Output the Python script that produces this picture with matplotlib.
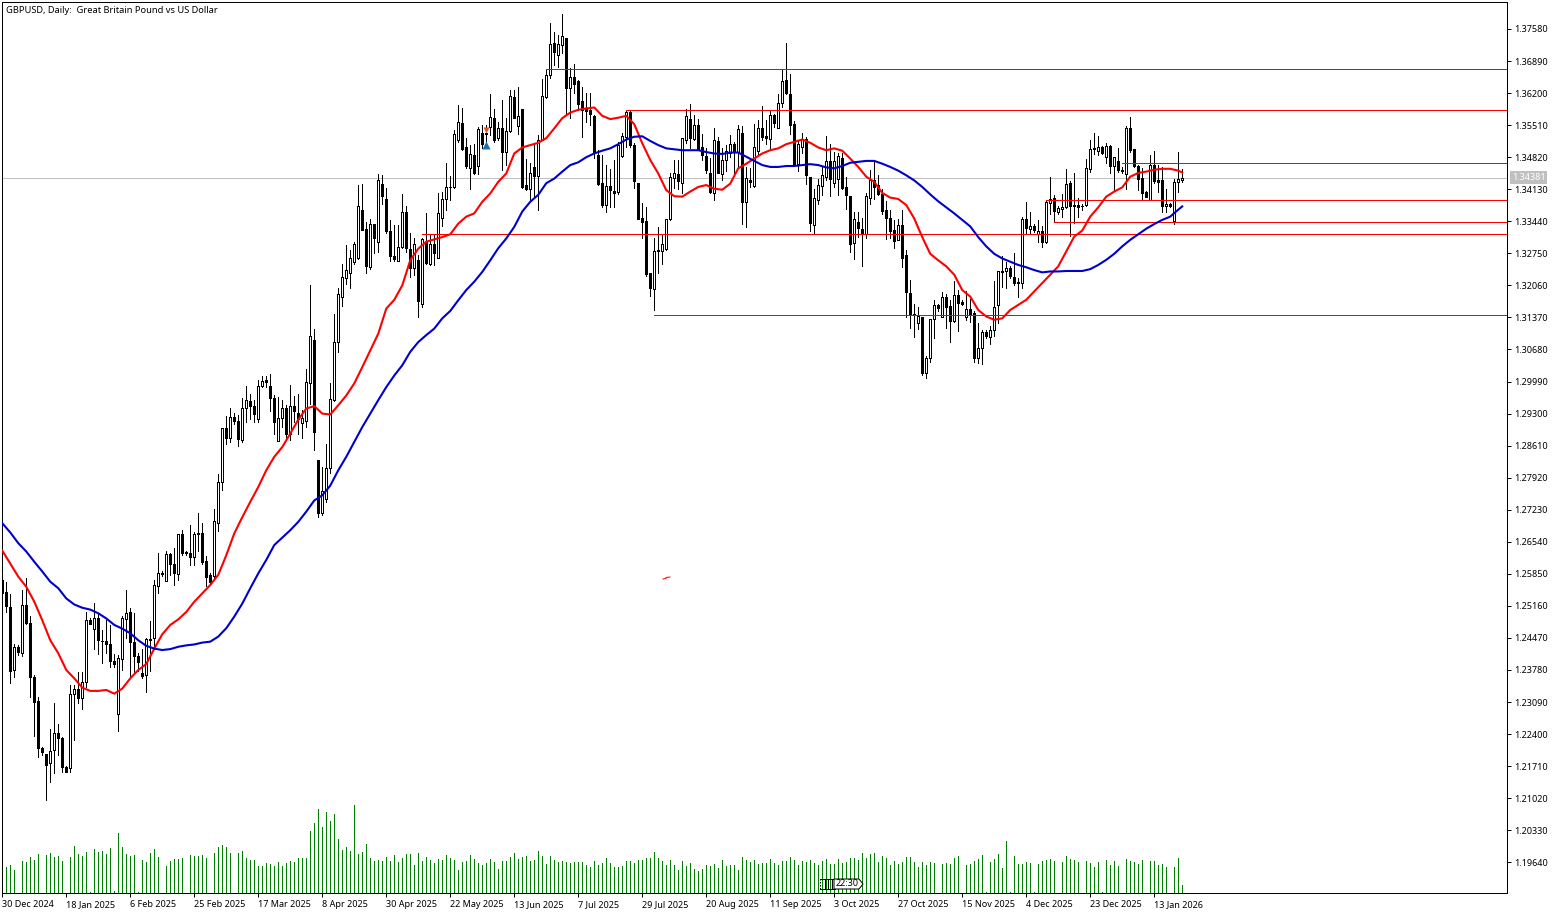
import matplotlib
matplotlib.use('Agg')
import matplotlib.pyplot as plt
import numpy as np
from matplotlib.patches import Polygon
from matplotlib.transforms import IdentityTransform

plt.rcParams['font.family'] = ['Noto Sans', 'DejaVu Sans']

# daily GBPUSD candles
opens = [
    1.2572, 1.2546, 1.2513, 1.2378, 1.2427, 1.2415, 1.2519, 1.2480, 1.2362, 1.2311,
    1.2209, 1.2198, 1.2177, 1.2205, 1.2243, 1.2231, 1.2170, 1.2166, 1.2327, 1.2338,
    1.2317, 1.2353, 1.2485, 1.2467, 1.2491, 1.2441, 1.2440, 1.2435, 1.2398, 1.2284,
    1.2401, 1.2487, 1.2502, 1.2439, 1.2408, 1.2371, 1.2367, 1.2443, 1.2446, 1.2559,
    1.2585, 1.2570, 1.2628, 1.2606, 1.2585, 1.2670, 1.2631, 1.2629, 1.2622, 1.2670,
    1.2674, 1.2612, 1.2582, 1.2580, 1.2695, 1.2783, 1.2900, 1.2878, 1.2923, 1.2913,
    1.2874, 1.2941, 1.2957, 1.2946, 1.2918, 1.2989, 1.3002, 1.2990, 1.2964, 1.2871,
    1.2921, 1.2943, 1.2887, 1.2946, 1.2932, 1.2910, 1.2914, 1.2995, 1.3089, 1.2831,
    1.2716, 1.2747, 1.2812, 1.2960, 1.3084, 1.3180, 1.3221, 1.3233, 1.3257, 1.3266,
    1.3368, 1.3328, 1.3245, 1.3338, 1.3300, 1.3425, 1.3391, 1.3323, 1.3270, 1.3259,
    1.3289, 1.3363, 1.3285, 1.3244, 1.3260, 1.3167, 1.3302, 1.3252, 1.3296, 1.3266,
    1.3352, 1.3391, 1.3417, 1.3418, 1.3519, 1.3555, 1.3503, 1.3459, 1.3487, 1.3464,
    1.3533, 1.3533, 1.3548, 1.3566, 1.3524, 1.3544, 1.3494, 1.3539, 1.3611, 1.3550,
    1.3585, 1.3422, 1.3413, 1.3460, 1.3441, 1.3520, 1.3612, 1.3658, 1.3727, 1.3701,
    1.3724, 1.3738, 1.3630, 1.3654, 1.3645, 1.3603, 1.3587, 1.3584, 1.3571, 1.3487,
    1.3426, 1.3378, 1.3420, 1.3409, 1.3408, 1.3485, 1.3526, 1.3580, 1.3508, 1.3426,
    1.3352, 1.3344, 1.3232, 1.3199, 1.3281, 1.3280, 1.3284, 1.3348, 1.3438, 1.3446,
    1.3426, 1.3518, 1.3564, 1.3522, 1.3551, 1.3503, 1.3484, 1.3449, 1.3405, 1.3516,
    1.3445, 1.3476, 1.3491, 1.3511, 1.3493, 1.3533, 1.3386, 1.3432, 1.3419, 1.3496,
    1.3544, 1.3527, 1.3522, 1.3572, 1.3545, 1.3598, 1.3648, 1.3619, 1.3553, 1.3467,
    1.3504, 1.3522, 1.3440, 1.3336, 1.3389, 1.3420, 1.3440, 1.3473, 1.3427, 1.3436,
    1.3480, 1.3417, 1.3398, 1.3298, 1.3342, 1.3328, 1.3316, 1.3395, 1.3432, 1.3422,
    1.3402, 1.3368, 1.3351, 1.3325, 1.3303, 1.3336, 1.3271, 1.3190, 1.3145, 1.3125,
    1.3139, 1.3017, 1.3050, 1.3134, 1.3163, 1.3139, 1.3180, 1.3162, 1.3130, 1.3186,
    1.3170, 1.3137, 1.3155, 1.3146, 1.3049, 1.3071, 1.3105, 1.3094, 1.3109, 1.3163,
    1.3235, 1.3236, 1.3243, 1.3224, 1.3211, 1.3212, 1.3348, 1.3328, 1.3334, 1.3317,
    1.3324, 1.3300, 1.3384, 1.3394, 1.3365, 1.3371, 1.3374, 1.3426, 1.3378, 1.3379,
    1.3377, 1.3378, 1.3457, 1.3499, 1.3496, 1.3504, 1.3483, 1.3506, 1.3464, 1.3474,
    1.3453, 1.3446, 1.3545, 1.3499, 1.3464, 1.3437, 1.3408, 1.3390, 1.3465, 1.3433,
    1.3433, 1.3376, 1.3382, 1.3344, 1.3428, 1.3432,
]
highs = [
    1.2575, 1.2568, 1.2541, 1.2434, 1.2432, 1.2551, 1.2575, 1.2494, 1.2367, 1.2320,
    1.2213, 1.2198, 1.2250, 1.2306, 1.2261, 1.2234, 1.2171, 1.2345, 1.2345, 1.2374,
    1.2374, 1.2503, 1.2489, 1.2523, 1.2500, 1.2464, 1.2485, 1.2475, 1.2412, 1.2410,
    1.2494, 1.2550, 1.2511, 1.2500, 1.2414, 1.2424, 1.2446, 1.2483, 1.2572, 1.2629,
    1.2591, 1.2635, 1.2630, 1.2640, 1.2670, 1.2679, 1.2635, 1.2690, 1.2676, 1.2717,
    1.2694, 1.2623, 1.2586, 1.2724, 1.2800, 1.2900, 1.2924, 1.2943, 1.2931, 1.2926,
    1.2964, 1.2989, 1.2973, 1.2960, 1.3002, 1.3010, 1.3012, 1.3015, 1.2969, 1.2966,
    1.2959, 1.2948, 1.2992, 1.2967, 1.2973, 1.2937, 1.3025, 1.3207, 1.3113, 1.2831,
    1.2814, 1.2864, 1.2995, 1.3145, 1.3201, 1.3252, 1.3292, 1.3282, 1.3300, 1.3422,
    1.3424, 1.3343, 1.3348, 1.3339, 1.3445, 1.3443, 1.3415, 1.3346, 1.3336, 1.3336,
    1.3402, 1.3376, 1.3318, 1.3307, 1.3271, 1.3307, 1.3362, 1.3314, 1.3314, 1.3404,
    1.3406, 1.3469, 1.3442, 1.3541, 1.3594, 1.3587, 1.3523, 1.3508, 1.3510, 1.3548,
    1.3551, 1.3551, 1.3618, 1.3585, 1.3558, 1.3605, 1.3566, 1.3627, 1.3627, 1.3634,
    1.3585, 1.3478, 1.3469, 1.3512, 1.3530, 1.3650, 1.3670, 1.3770, 1.3752, 1.3745,
    1.3790, 1.3738, 1.3673, 1.3682, 1.3648, 1.3634, 1.3620, 1.3620, 1.3573, 1.3497,
    1.3487, 1.3465, 1.3456, 1.3476, 1.3515, 1.3533, 1.3584, 1.3584, 1.3513, 1.3426,
    1.3384, 1.3375, 1.3233, 1.3307, 1.3331, 1.3314, 1.3349, 1.3447, 1.3476, 1.3477,
    1.3523, 1.3586, 1.3596, 1.3572, 1.3565, 1.3532, 1.3501, 1.3481, 1.3544, 1.3526,
    1.3501, 1.3508, 1.3529, 1.3514, 1.3551, 1.3549, 1.3460, 1.3458, 1.3554, 1.3562,
    1.3592, 1.3562, 1.3582, 1.3575, 1.3619, 1.3671, 1.3727, 1.3661, 1.3560, 1.3519,
    1.3534, 1.3526, 1.3440, 1.3413, 1.3436, 1.3461, 1.3527, 1.3510, 1.3493, 1.3491,
    1.3490, 1.3440, 1.3398, 1.3364, 1.3364, 1.3352, 1.3405, 1.3454, 1.3472, 1.3443,
    1.3414, 1.3387, 1.3368, 1.3346, 1.3350, 1.3368, 1.3282, 1.3218, 1.3165, 1.3160,
    1.3139, 1.3053, 1.3134, 1.3174, 1.3165, 1.3191, 1.3188, 1.3175, 1.3216, 1.3196,
    1.3175, 1.3193, 1.3176, 1.3150, 1.3124, 1.3110, 1.3110, 1.3119, 1.3216, 1.3236,
    1.3270, 1.3257, 1.3247, 1.3275, 1.3221, 1.3353, 1.3385, 1.3365, 1.3338, 1.3347,
    1.3333, 1.3389, 1.3440, 1.3401, 1.3376, 1.3403, 1.3456, 1.3430, 1.3449, 1.3394,
    1.3381, 1.3478, 1.3519, 1.3534, 1.3528, 1.3506, 1.3512, 1.3509, 1.3483, 1.3501,
    1.3460, 1.3550, 1.3568, 1.3499, 1.3465, 1.3458, 1.3409, 1.3487, 1.3496, 1.3465,
    1.3460, 1.3414, 1.3383, 1.3435, 1.3493, 1.3456,
]
lows = [
    1.2539, 1.2503, 1.2351, 1.2362, 1.2410, 1.2409, 1.2477, 1.2320, 1.2236, 1.2191,
    1.2195, 1.2099, 1.2137, 1.2157, 1.2195, 1.2159, 1.2159, 1.2159, 1.2227, 1.2307,
    1.2293, 1.2342, 1.2477, 1.2424, 1.2412, 1.2392, 1.2414, 1.2385, 1.2385, 1.2247,
    1.2379, 1.2446, 1.2363, 1.2372, 1.2376, 1.2361, 1.2331, 1.2376, 1.2424, 1.2543,
    1.2581, 1.2570, 1.2582, 1.2561, 1.2572, 1.2625, 1.2625, 1.2604, 1.2604, 1.2635,
    1.2607, 1.2559, 1.2564, 1.2575, 1.2678, 1.2765, 1.2864, 1.2869, 1.2907, 1.2860,
    1.2869, 1.2912, 1.2919, 1.2912, 1.2912, 1.2987, 1.2987, 1.2936, 1.2887, 1.2871,
    1.2901, 1.2873, 1.2873, 1.2912, 1.2887, 1.2877, 1.2901, 1.2951, 1.2852, 1.2707,
    1.2711, 1.2740, 1.2802, 1.2957, 1.3063, 1.3162, 1.3210, 1.3201, 1.3253, 1.3262,
    1.3325, 1.3233, 1.3242, 1.3275, 1.3278, 1.3382, 1.3318, 1.3259, 1.3259, 1.3259,
    1.3287, 1.3278, 1.3224, 1.3228, 1.3138, 1.3160, 1.3252, 1.3250, 1.3250, 1.3266,
    1.3334, 1.3368, 1.3390, 1.3415, 1.3515, 1.3497, 1.3458, 1.3413, 1.3446, 1.3446,
    1.3501, 1.3512, 1.3530, 1.3515, 1.3519, 1.3454, 1.3465, 1.3537, 1.3566, 1.3532,
    1.3415, 1.3411, 1.3388, 1.3397, 1.3368, 1.3519, 1.3609, 1.3652, 1.3681, 1.3676,
    1.3706, 1.3573, 1.3566, 1.3620, 1.3584, 1.3526, 1.3558, 1.3551, 1.3481, 1.3422,
    1.3375, 1.3365, 1.3375, 1.3374, 1.3403, 1.3483, 1.3505, 1.3503, 1.3415, 1.3348,
    1.3307, 1.3227, 1.3184, 1.3153, 1.3232, 1.3253, 1.3282, 1.3347, 1.3415, 1.3413,
    1.3404, 1.3512, 1.3501, 1.3519, 1.3497, 1.3476, 1.3447, 1.3404, 1.3389, 1.3447,
    1.3432, 1.3453, 1.3483, 1.3447, 1.3458, 1.3339, 1.3332, 1.3418, 1.3418, 1.3486,
    1.3519, 1.3511, 1.3497, 1.3547, 1.3544, 1.3590, 1.3618, 1.3532, 1.3463, 1.3453,
    1.3490, 1.3424, 1.3323, 1.3319, 1.3382, 1.3400, 1.3432, 1.3399, 1.3418, 1.3400,
    1.3414, 1.3371, 1.3278, 1.3262, 1.3310, 1.3248, 1.3309, 1.3381, 1.3393, 1.3400,
    1.3359, 1.3305, 1.3309, 1.3287, 1.3303, 1.3246, 1.3138, 1.3114, 1.3095, 1.3113,
    1.3014, 1.3007, 1.3041, 1.3093, 1.3151, 1.3137, 1.3114, 1.3085, 1.3128, 1.3107,
    1.3164, 1.3132, 1.3128, 1.3042, 1.3038, 1.3037, 1.3092, 1.3080, 1.3096, 1.3124,
    1.3203, 1.3201, 1.3221, 1.3207, 1.3180, 1.3200, 1.3318, 1.3317, 1.3322, 1.3300,
    1.3288, 1.3298, 1.3360, 1.3342, 1.3360, 1.3353, 1.3372, 1.3313, 1.3340, 1.3354,
    1.3369, 1.3377, 1.3451, 1.3488, 1.3487, 1.3489, 1.3469, 1.3449, 1.3412, 1.3451,
    1.3448, 1.3414, 1.3494, 1.3461, 1.3412, 1.3392, 1.3396, 1.3390, 1.3427, 1.3408,
    1.3363, 1.3363, 1.3374, 1.3339, 1.3406, 1.3428,
]
closes = [
    1.2543, 1.2516, 1.2376, 1.2427, 1.2417, 1.2519, 1.2480, 1.2362, 1.2310, 1.2209,
    1.2202, 1.2173, 1.2204, 1.2243, 1.2231, 1.2170, 1.2159, 1.2327, 1.2338, 1.2317,
    1.2353, 1.2485, 1.2478, 1.2491, 1.2442, 1.2440, 1.2435, 1.2398, 1.2390, 1.2403,
    1.2489, 1.2501, 1.2439, 1.2408, 1.2396, 1.2365, 1.2444, 1.2445, 1.2561, 1.2586,
    1.2586, 1.2628, 1.2607, 1.2587, 1.2670, 1.2630, 1.2630, 1.2622, 1.2670, 1.2674,
    1.2611, 1.2579, 1.2567, 1.2698, 1.2783, 1.2900, 1.2878, 1.2923, 1.2914, 1.2875,
    1.2943, 1.2960, 1.2946, 1.2929, 1.2990, 1.3000, 1.2999, 1.2964, 1.2912, 1.2921,
    1.2943, 1.2887, 1.2947, 1.2936, 1.2919, 1.2921, 1.2999, 1.3098, 1.2890, 1.2715,
    1.2763, 1.2812, 1.2962, 1.3085, 1.3188, 1.3224, 1.3240, 1.3264, 1.3295, 1.3376,
    1.3326, 1.3248, 1.3339, 1.3308, 1.3432, 1.3399, 1.3323, 1.3269, 1.3262, 1.3289,
    1.3363, 1.3287, 1.3244, 1.3296, 1.3173, 1.3305, 1.3254, 1.3296, 1.3276, 1.3361,
    1.3393, 1.3418, 1.3418, 1.3531, 1.3557, 1.3500, 1.3462, 1.3488, 1.3447, 1.3542,
    1.3510, 1.3532, 1.3568, 1.3518, 1.3544, 1.3494, 1.3538, 1.3614, 1.3567, 1.3570,
    1.3418, 1.3413, 1.3449, 1.3441, 1.3520, 1.3614, 1.3660, 1.3726, 1.3709, 1.3725,
    1.3743, 1.3632, 1.3654, 1.3640, 1.3597, 1.3584, 1.3582, 1.3575, 1.3490, 1.3424,
    1.3378, 1.3420, 1.3411, 1.3404, 1.3508, 1.3528, 1.3580, 1.3508, 1.3431, 1.3349,
    1.3343, 1.3230, 1.3201, 1.3280, 1.3282, 1.3295, 1.3348, 1.3439, 1.3447, 1.3431,
    1.3523, 1.3571, 1.3523, 1.3551, 1.3498, 1.3486, 1.3454, 1.3406, 1.3520, 1.3449,
    1.3477, 1.3496, 1.3511, 1.3496, 1.3542, 1.3386, 1.3438, 1.3429, 1.3504, 1.3544,
    1.3526, 1.3523, 1.3572, 1.3556, 1.3598, 1.3646, 1.3621, 1.3552, 1.3465, 1.3511,
    1.3522, 1.3443, 1.3341, 1.3395, 1.3423, 1.3443, 1.3473, 1.3436, 1.3473, 1.3484,
    1.3416, 1.3400, 1.3296, 1.3348, 1.3330, 1.3316, 1.3399, 1.3432, 1.3418, 1.3402,
    1.3366, 1.3351, 1.3323, 1.3302, 1.3336, 1.3265, 1.3192, 1.3144, 1.3143, 1.3140,
    1.3017, 1.3050, 1.3134, 1.3163, 1.3157, 1.3180, 1.3160, 1.3130, 1.3186, 1.3168,
    1.3167, 1.3155, 1.3145, 1.3049, 1.3071, 1.3105, 1.3096, 1.3110, 1.3160, 1.3236,
    1.3237, 1.3243, 1.3227, 1.3211, 1.3213, 1.3348, 1.3329, 1.3334, 1.3326, 1.3324,
    1.3300, 1.3385, 1.3392, 1.3367, 1.3372, 1.3374, 1.3424, 1.3377, 1.3377, 1.3374,
    1.3376, 1.3458, 1.3499, 1.3501, 1.3504, 1.3492, 1.3506, 1.3464, 1.3482, 1.3455,
    1.3455, 1.3545, 1.3498, 1.3462, 1.3435, 1.3404, 1.3397, 1.3465, 1.3431, 1.3429,
    1.3376, 1.3382, 1.3376, 1.3428, 1.3435, 1.34381,
]
volumes = [
    0, 78, 85, 70, 0, 97, 94, 109, 100, 118, 0, 115, 121, 109, 112, 97, 0, 109, 142, 118,
    112, 124, 4, 133, 124, 127, 118, 136, 7, 184, 139, 118, 112, 115, 4, 100, 94, 121, 133, 109,
    0, 82, 97, 103, 103, 106, 0, 115, 112, 112, 115, 106, 0, 121, 139, 145, 139, 121, 0, 121,
    127, 106, 100, 100, 82, 82, 91, 88, 82, 94, 82, 91, 97, 94, 106, 106, 106, 190, 214, 256,
    202, 247, 220, 241, 163, 130, 139, 127, 268, 118, 124, 148, 106, 97, 100, 97, 109, 97, 115, 94,
    106, 118, 118, 85, 121, 97, 109, 100, 91, 103, 100, 115, 106, 100, 70, 94, 97, 115, 103, 91,
    85, 91, 103, 94, 73, 97, 97, 109, 121, 103, 109, 112, 97, 100, 127, 112, 88, 112, 100, 94,
    97, 94, 91, 94, 94, 94, 85, 79, 97, 85, 91, 106, 91, 79, 79, 81, 96, 96, 90, 102,
    99, 108, 108, 126, 108, 96, 84, 99, 84, 69, 96, 81, 90, 72, 66, 72, 84, 81, 87, 75,
    99, 81, 84, 84, 69, 111, 102, 93, 99, 87, 90, 90, 105, 90, 84, 96, 96, 111, 102, 84,
    96, 93, 102, 90, 84, 96, 105, 87, 87, 105, 90, 93, 108, 108, 102, 123, 108, 120, 123, 93,
    114, 108, 84, 96, 87, 93, 111, 111, 93, 78, 93, 84, 93, 90, 0, 87, 90, 87, 108, 114,
    0, 84, 87, 96, 105, 117, 3, 93, 105, 120, 75, 159, 3, 114, 87, 87, 93, 90, 3, 87,
    96, 102, 105, 96, 0, 93, 114, 105, 102, 93, 0, 96, 90, 78, 93, 3, 102, 84, 96, 81,
    0, 105, 96, 93, 87, 102, 0, 96, 96, 84, 87, 78, 0, 78, 108, 24,
]

# moving averages, read every second bar along the curves
ma_bars = list(range(0, 296, 2)) + [295]
ma_fast = [
    1.2635, 1.2607, 1.2579, 1.2557, 1.2525, 1.2485, 1.2442, 1.2414, 1.2378, 1.2360,
    1.2340, 1.2333, 1.2333, 1.2335, 1.2327, 1.2338, 1.2360, 1.2378, 1.2391, 1.2424,
    1.2455, 1.2475, 1.2487, 1.2503, 1.2525, 1.2543, 1.2561, 1.2583, 1.2625, 1.2672,
    1.2707, 1.2740, 1.2772, 1.2808, 1.2837, 1.2858, 1.2887, 1.2917, 1.2941, 1.2946,
    1.2930, 1.2928, 1.2948, 1.2969, 1.2995, 1.3030, 1.3066, 1.3102, 1.3156, 1.3175,
    1.3206, 1.3260, 1.3285, 1.3300, 1.3305, 1.3310, 1.3316, 1.3339, 1.3354, 1.3361,
    1.3386, 1.3404, 1.3429, 1.3447, 1.3490, 1.3503, 1.3508, 1.3513, 1.3523, 1.3544,
    1.3566, 1.3578, 1.3584, 1.3587, 1.3589, 1.3571, 1.3564, 1.3567, 1.3571, 1.3553,
    1.3512, 1.3476, 1.3447, 1.3411, 1.3398, 1.3397, 1.3408, 1.3418, 1.3422, 1.3414,
    1.3412, 1.3425, 1.3458, 1.3468, 1.3479, 1.3490, 1.3497, 1.3501, 1.3510, 1.3515,
    1.3520, 1.3513, 1.3503, 1.3497, 1.3501, 1.3496, 1.3479, 1.3461, 1.3440, 1.3429,
    1.3405, 1.3395, 1.3392, 1.3379, 1.3350, 1.3310, 1.3274, 1.3260, 1.3247, 1.3229,
    1.3196, 1.3182, 1.3153, 1.3139, 1.3132, 1.3135, 1.3153, 1.3164, 1.3175, 1.3193,
    1.3211, 1.3229, 1.3247, 1.3279, 1.3311, 1.3324, 1.3354, 1.3374, 1.3397, 1.3408,
    1.3417, 1.3440, 1.3448, 1.3451, 1.3455, 1.3457, 1.3457, 1.3453, 1.3449,
]
ma_slow = [
    1.2694, 1.2674, 1.2651, 1.2633, 1.2611, 1.2590, 1.2568, 1.2554, 1.2532, 1.2519,
    1.2512, 1.2508, 1.2500, 1.2489, 1.2475, 1.2467, 1.2457, 1.2442, 1.2430, 1.2424,
    1.2421, 1.2423, 1.2428, 1.2431, 1.2433, 1.2437, 1.2439, 1.2450, 1.2468, 1.2493,
    1.2521, 1.2554, 1.2586, 1.2615, 1.2647, 1.2663, 1.2679, 1.2697, 1.2719, 1.2743,
    1.2754, 1.2775, 1.2808, 1.2837, 1.2869, 1.2901, 1.2930, 1.2959, 1.2987, 1.3012,
    1.3034, 1.3063, 1.3084, 1.3099, 1.3113, 1.3135, 1.3151, 1.3174, 1.3196, 1.3214,
    1.3235, 1.3260, 1.3286, 1.3307, 1.3332, 1.3365, 1.3386, 1.3401, 1.3426, 1.3436,
    1.3451, 1.3465, 1.3471, 1.3482, 1.3490, 1.3496, 1.3501, 1.3510, 1.3520, 1.3526,
    1.3527, 1.3517, 1.3508, 1.3501, 1.3499, 1.3497, 1.3497, 1.3497, 1.3493, 1.3490,
    1.3489, 1.3492, 1.3492, 1.3483, 1.3474, 1.3465, 1.3461, 1.3461, 1.3463, 1.3463,
    1.3465, 1.3467, 1.3465, 1.3460, 1.3458, 1.3463, 1.3470, 1.3472, 1.3474, 1.3474,
    1.3468, 1.3461, 1.3453, 1.3443, 1.3432, 1.3418, 1.3402, 1.3387, 1.3374, 1.3361,
    1.3347, 1.3333, 1.3310, 1.3290, 1.3274, 1.3264, 1.3257, 1.3250, 1.3245, 1.3239,
    1.3234, 1.3236, 1.3236, 1.3237, 1.3237, 1.3237, 1.3241, 1.3250, 1.3261, 1.3274,
    1.3290, 1.3304, 1.3316, 1.3328, 1.3338, 1.3347, 1.3354, 1.3369, 1.3376,
]

# support / resistance levels: price and the bar they start from
level_prices = [1.3671, 1.3583, 1.3469, 1.3389, 1.3342, 1.3316, 1.3142]
level_starts = [136, 156, 280, 261, 263, 105, 163]

last_price = 1.34381
date_labels = ['30 Dec 2024', '18 Jan 2025', '6 Feb 2025', '25 Feb 2025', '17 Mar 2025',
               '8 Apr 2025', '30 Apr 2025', '22 May 2025', '13 Jun 2025', '7 Jul 2025',
               '29 Jul 2025', '20 Aug 2025', '11 Sep 2025', '3 Oct 2025', '27 Oct 2025',
               '15 Nov 2025', '4 Dec 2025', '23 Dec 2025', '13 Jan 2026']
price_ticks = [1.3758 - 0.0069 * k for k in range(27)]

W, H = 1561, 915
fig = plt.figure(figsize=(W / 100, H / 100), dpi=100, facecolor='white')
ax = fig.add_axes([2 / W, (H - 893) / H, 1505 / W, 891 / H])
ax.set_xlim(-0.075, 376.2)
ax.set_ylim(1.18979, 1.38161)

opens_a = np.array(opens)
closes_a = np.array(closes)
idx = np.arange(len(opens_a))
PX = 0.72  # one pixel in points

ax.axhline(last_price, color='#c0c0c0', lw=PX, zorder=1)
ax.vlines(idx, lows, highs, color='black', lw=PX, zorder=2, antialiased=False)
up = closes_a >= opens_a
body = np.maximum(np.abs(closes_a - opens_a), 0.00005)
ax.bar(idx[up], body[up], bottom=opens_a[up], width=0.5, facecolor='white', edgecolor='black',
       linewidth=PX, zorder=3, antialiased=False)
ax.bar(idx[~up], body[~up], bottom=closes_a[~up], width=0.5, facecolor='black', edgecolor='black',
       linewidth=PX, zorder=3, antialiased=False)

for price, start in zip(level_prices, level_starts):
    ax.hlines(price, start, 376.2, color='#ff0000', lw=PX, zorder=4, antialiased=False)

ax.plot(ma_bars, ma_fast, color='#ff0000', lw=1.5, zorder=5, solid_joinstyle='round')
ax.plot(ma_bars, ma_slow, color='#0000cd', lw=1.5, zorder=5, solid_joinstyle='round')

# trade arrows on one bar
ax.plot([121], [1.3541], marker='v', ms=5, color='#e0502a', mec='none', zorder=6)
ax.plot([121], [1.3508], marker='^', ms=5.5, color='#1a6fb5', mec='none', zorder=6)

# volume in the bottom of the same window
ax_vol = ax.twinx()
ax_vol.set_ylim(0, 2713)
ax_vol.vlines(idx, 0, volumes, color='#008000', lw=PX, antialiased=False)
ax_vol.set_yticks([])
for s in ax_vol.spines.values():
    s.set_visible(False)
ax_vol.patch.set_visible(False)

ax.set_xticks(idx[::16])
ax.set_xticklabels(date_labels, ha='left', fontsize=6.5)
ax.yaxis.tick_right()
ax.set_yticks(price_ticks)
ax.set_yticklabels(['%.5f' % p for p in price_ticks], fontsize=6.5)
ax.tick_params(axis='x', length=3.0, width=PX, pad=2)
ax.tick_params(axis='y', length=3.0, width=PX, pad=2)
for s in ax.spines.values():
    s.set_linewidth(PX)

ax.text(1, 1.3798, 'GBPUSD, Daily:  Great Britain Pound vs US Dollar', fontsize=6.7,
        va='center', ha='left', zorder=8)

# last price tag on the right axis
ax.annotate('%.5f' % last_price, xy=(1, last_price), xycoords=('axes fraction', 'data'),
            xytext=(3.4, 0), textcoords='offset points', fontsize=6.5, color='white',
            va='center', ha='left', annotation_clip=False,
            bbox=dict(boxstyle='square,pad=0.2', fc='#c0c0c0', ec='none'))

# event flag above the time scale, drawn in screen pixels
screen = IdentityTransform()
fig.add_artist(plt.Line2D([820, 820], [H - 889, H - 879], color='black', lw=PX, ls=(0, (1.5, 1.5)),
                          transform=screen, zorder=9))
for xp in [825, 828, 832]:
    fig.add_artist(plt.Line2D([xp, xp], [H - 889, H - 879], color='black', lw=PX,
                              transform=screen, zorder=9))
for yp in [879, 889]:
    fig.add_artist(plt.Line2D([820, 835], [H - yp, H - yp], color='black', lw=PX,
                              transform=screen, zorder=9))
flag = [(834, H - 879), (859, H - 879), (863, H - 884), (859, H - 889), (834, H - 889)]
fig.add_artist(Polygon(flag, closed=True, fc='white', ec='black', lw=PX, transform=screen, zorder=9))
fig.text(847 / W, (H - 884) / H, '22:30', fontsize=6.5, ha='center', va='center', zorder=10)
# stray red stroke in the empty area
fig.add_artist(plt.Line2D([663, 666, 666, 670], [H - 579, H - 578.5, H - 577.5, H - 577], color='#ff0000', lw=PX,
                          transform=screen, zorder=9))

fig.savefig('out.png', dpi=100, facecolor='white')
